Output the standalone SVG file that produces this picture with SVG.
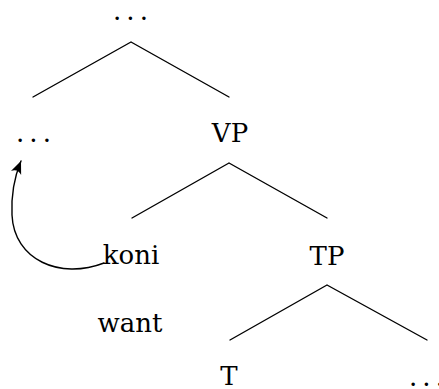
<svg xmlns="http://www.w3.org/2000/svg" width="439" height="389" viewBox="0 0 439 389">
<style>
.t { font-family: "DejaVu Serif", serif; font-size: 26px; fill: #000; }
.lbl { text-anchor: middle; }
.dots { letter-spacing: 5.2px; }
.edge { stroke: #000; stroke-width: 1.4; fill: none; stroke-linecap: round; }
</style>
<defs>
<marker id="arr" markerUnits="userSpaceOnUse" markerWidth="16" markerHeight="14" viewBox="-14 -7 16 14" refX="0" refY="0" orient="auto">
<path d="M0,0 L-13,-5.5 Q-8,0 -13,5.5 Z" fill="#000"/>
</marker>
</defs>
<rect width="439" height="389" fill="#fff"/>
<g id="connectors">
<path class="edge" d="M131,42 L33,97 M131,42 L229,97"/>
<path class="edge" d="M229,163 L132,218 M229,163 L327,218"/>
<path class="edge" d="M327,285 L230,340 M327,285 L427,340"/>
<path class="edge" d="M104,263 C60,280 14,260 12,215 C11,195 14,178 21,161" marker-end="url(#arr)"/>
</g>
<g id="node-top"><text class="t dots" x="112.9" y="19.5">...</text></g>
<g id="node-left"><text class="t dots" x="15.9" y="141.5">...</text></g>
<g id="node-vp"><text class="t lbl" x="230" y="142" font-size="27">VP</text></g>
<g id="node-koni"><text class="t lbl" x="131" y="264">koni</text></g>
<g id="node-tp"><text class="t lbl" x="327" y="265" font-size="27">TP</text></g>
<g id="node-want"><text class="t lbl" x="130" y="332">want</text></g>
<g id="node-t"><text class="t lbl" x="229" y="385" font-size="27">T</text></g>
<g id="node-right"><text class="t dots" x="408.9" y="385.5">...</text></g>
</svg>
